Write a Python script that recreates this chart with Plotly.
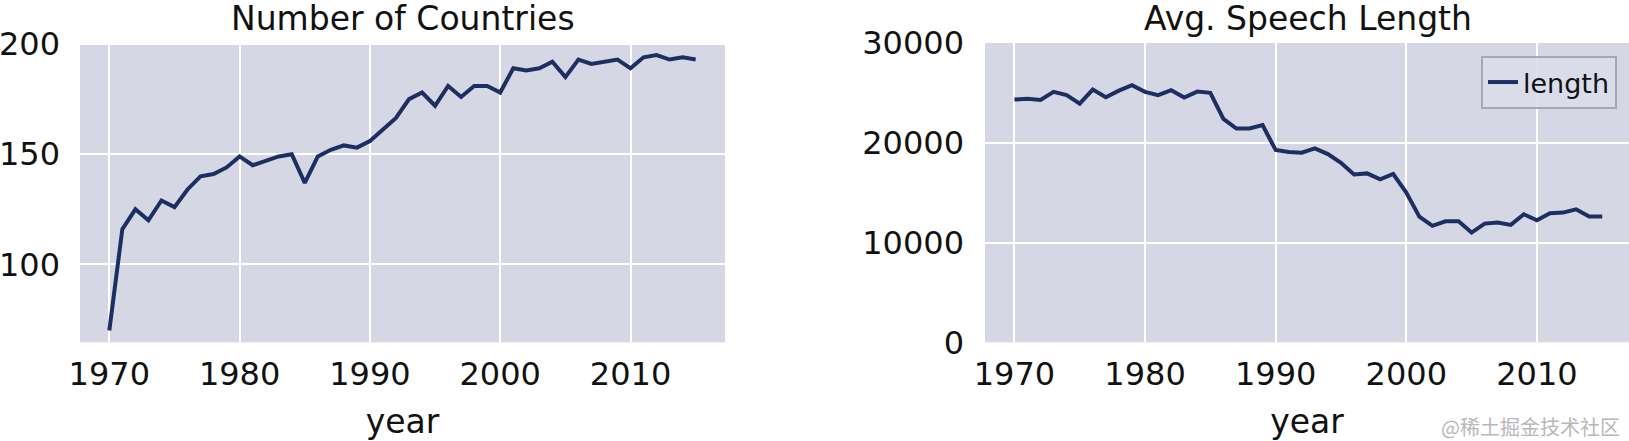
import plotly.graph_objects as go
from plotly.subplots import make_subplots

years = list(range(1970, 2016))
countries = [70, 116, 125, 120, 129, 126, 134, 140, 141, 144,
             149, 145, 147, 149, 150, 137, 149, 152, 154, 153,
             156, 161.5, 166.5, 175, 178, 172, 181, 176, 181, 181,
             178, 189, 188, 189, 192, 185, 193, 191, 192, 193,
             189, 194, 195, 193, 194, 193]
avg_length = [24330, 24400, 24300, 25100, 24770, 23930, 25330, 24570, 25230, 25770,
              25100, 24770, 25270, 24530, 25130, 25000, 22400, 21430, 21430, 21770,
              19270, 19070, 19000, 19430, 18870, 18000, 16830, 16930, 16330, 16870,
              15000, 12600, 11670, 12130, 12130, 11000, 11900, 12000, 11770, 12830,
              12230, 12930, 13000, 13330, 12600, 12600]

titles = ["Number of Countries", "Avg. Speech Length"]
x_label = "year"
legend_label = "length"
x_ticks = [1970, 1980, 1990, 2000, 2010]
y_ticks_left = [100, 150, 200]
y_ticks_right = [0, 10000, 20000, 30000]

W, H = 1629, 441
BG = "#d6d7e5"
LINE = "#1d2f62"
FONT = "DejaVu Sans"
TXT = "#111111"

fig = make_subplots(rows=1, cols=2)
fig.add_trace(go.Scatter(x=years, y=countries, mode="lines",
                         line=dict(color=LINE, width=4), showlegend=False),
              row=1, col=1)
fig.add_trace(go.Scatter(x=years, y=avg_length, mode="lines", name=legend_label,
                         line=dict(color=LINE, width=4), showlegend=True),
              row=1, col=2)

ydom = [1 - 342.3 / H, 1 - 43 / H]
axis_common = dict(showgrid=True, gridcolor="white", gridwidth=2, zeroline=False,
                   showline=False, ticks="", automargin=False,
                   tickfont=dict(family=FONT, size=32, color=TXT))

fig.update_xaxes(**axis_common)
fig.update_yaxes(**axis_common)

xtitle = dict(text=x_label, font=dict(family=FONT, size=33, color=TXT), standoff=17)
fig.update_layout(
    template="none",
    xaxis=dict(domain=[80 / W, 725 / W], range=[1967.75, 2017.25], tickvals=x_ticks,
               ticklabelstandoff=10, title=xtitle),
    xaxis2=dict(domain=[985 / W, 1.0], range=[1967.75, 2017.05], tickvals=x_ticks,
                ticklabelstandoff=10, title=xtitle),
    yaxis=dict(domain=ydom, range=[64.6, 200.5], tickvals=y_ticks_left, ticklabelstandoff=19),
    yaxis2=dict(domain=ydom, range=[0, 30000], tickvals=y_ticks_right, tickformat="d",
                ticklabelstandoff=20),
    width=W, height=H,
    margin=dict(l=0, r=0, t=0, b=0),
    paper_bgcolor="white",
    plot_bgcolor=BG,
    showlegend=True,
    legend=dict(x=1617 / W, xanchor="right", y=1 - 56 / H, yanchor="top",
                bgcolor="rgba(220,221,234,0.9)", bordercolor="#a6a6b4", borderwidth=2,
                font=dict(family=FONT, size=27, color=TXT)),
)
fig.update_xaxes(automargin=False, ticks="", showline=False, zeroline=False)
fig.update_yaxes(automargin=False, ticks="", showline=False, zeroline=False)

for i, t in enumerate(titles):
    cx = (80 + 725) / 2 / W if i == 0 else (985 + 1631) / 2 / W
    fig.add_annotation(text=t, x=cx, y=1 - 40 / H, xref="paper", yref="paper",
                       xanchor="center", yanchor="bottom", showarrow=False,
                       font=dict(family=FONT, size=33, color=TXT))

fig.add_annotation(text="@稀土掘金技术社区", x=1622 / W, y=1 - 426 / H, xref="paper", yref="paper",
                   xanchor="right", yanchor="middle", showarrow=False,
                   font=dict(family="Noto Sans CJK SC", size=20, color="#b8b8b8"))

fig.write_html("out.html", config={"displayModeBar": False},
               post_script="document.body.style.margin='0px';document.body.style.overflow='hidden';")
